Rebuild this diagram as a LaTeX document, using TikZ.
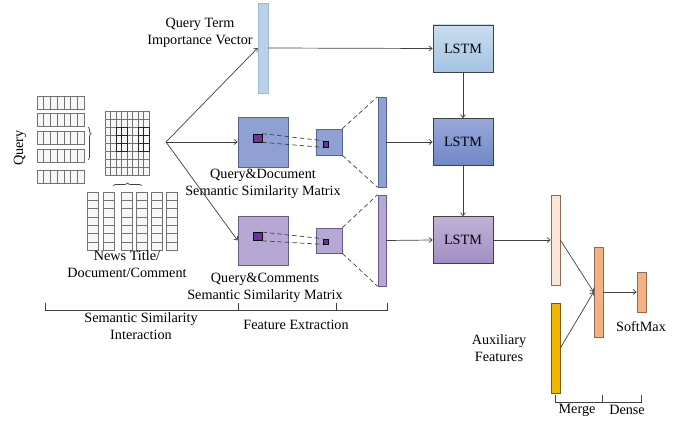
\documentclass[tikz,border=0pt]{standalone}
\usepackage{fontspec}
\setmainfont{Liberation Serif}
\usetikzlibrary{arrows.meta,decorations.pathreplacing}
\definecolor{qtvfill}{HTML}{B9D2EA}
\definecolor{qtvdraw}{HTML}{9DB9D6}
\definecolor{qdfill}{HTML}{8FA0D3}
\definecolor{qddraw}{HTML}{56648F}
\definecolor{qcfill}{HTML}{B5A8D4}
\definecolor{qcdraw}{HTML}{6A5C86}
\definecolor{dotpurple}{HTML}{7030A0}
\definecolor{peachlight}{HTML}{FBE5D6}
\definecolor{peach}{HTML}{F4B183}
\definecolor{auxgold}{HTML}{F2B600}
\definecolor{linegray}{HTML}{404040}
\definecolor{lstmAtop}{HTML}{C9DDEF}
\definecolor{lstmAbot}{HTML}{A3C3E2}
\definecolor{lstmBtop}{HTML}{97A8DB}
\definecolor{lstmBbot}{HTML}{7187C5}
\definecolor{lstmCtop}{HTML}{BFB2D8}
\definecolor{lstmCbot}{HTML}{A38EC2}
\begin{document}
\begin{tikzpicture}[x=1pt,y=-1pt,
  font=\fontsize{14.2}{17}\selectfont,
  line/.style={draw=linegray, line width=0.7pt},
  arr/.style={line, -{Straight Barb[length=3pt,width=5pt]}},
  dashline/.style={draw=linegray, line width=0.7pt, dashed, dash pattern=on 4.5pt off 3pt},
  cell/.style={draw=black!55, fill=gray!6, line width=0.5pt},
  boldcell/.style={draw=black!85, fill=gray!6, line width=0.65pt},
  box/.style={rectangle, inner sep=0pt, line width=0.7pt},
  lstm/.style={rectangle, draw=linegray, line width=0.7pt, minimum width=60pt, minimum height=47pt},
  lbl/.style={align=center, inner sep=0pt},
  brk/.style={draw=linegray, line width=0.7pt}
]
\useasboundingbox (0,0) rectangle (683,422);

% ---- query word vectors
\foreach \yy in {102.5,120,137.5,155.5,176.5}
  \foreach \i in {0,...,6}
    \draw[cell] ({37+\i*6.71},{\yy-6.5}) rectangle ++(6.71,13);
\draw[decorate, decoration={brace, amplitude=3pt, aspect=0.2}, brk] (88,127) -- (88,160);
\node[lbl, rotate=90] (querylbl) at (20,148) {Query};

% ---- interaction matrix
\foreach \r in {0,...,7}
  \foreach \c in {0,...,7}
    \draw[cell] ({105+\c*5.5},{111+\r*8}) rectangle ++(5.5,8);
\foreach \r in {2,3,4}
  \foreach \c in {2,3,6,7}
    \draw[boldcell] ({105+\c*5.5},{111+\r*8}) rectangle ++(5.5,8);
\draw[decorate, decoration={brace, amplitude=3pt}, brk] (113,186) -- (142,186);

% ---- document word vectors
\foreach \xx in {87,103,121,136,151,166}
  \foreach \j in {0,...,6}
    \draw[cell] (\xx,{192+\j*8.3}) rectangle ++(11,8.3);
\node[lbl] (newslbl) at (127,264) {News Title/\\Document/Comment};

\coordinate (fan) at (166,142);

% ---- query term importance vector
\node[box, draw=qtvdraw, fill=qtvfill, minimum width=10pt, minimum height=90pt] (qtv) at (263,48) {};
\node[lbl] (qtvlbl) at (200,32.5) {Query Term\\Importance Vector};

% ---- query & document branch
\node[box, draw=qddraw, fill=qdfill, minimum width=50pt, minimum height=50pt] (qdmat) at (263,142) {};
\node[box, draw=black, fill=dotpurple, minimum width=9pt, minimum height=8pt] (qdsq) at (257.5,138) {};
\node[box, draw=qddraw, fill=qdfill, minimum width=26pt, minimum height=26pt] (qdpool) at (329,142) {};
\node[box, draw=black, fill=dotpurple, minimum width=5pt, minimum height=6pt] (qdtiny) at (325.5,144) {};
\node[box, draw=qddraw, fill=qdfill, minimum width=8pt, minimum height=90pt] (qdvec) at (382,142) {};
\node[lbl] (qdlbl) at (263,184) {Query\&Document\\Semantic Similarity Matrix};

% ---- query & comments branch
\node[box, draw=qcdraw, fill=qcfill, minimum width=50pt, minimum height=49pt] (qcmat) at (263,240.5) {};
\node[box, draw=black, fill=dotpurple, minimum width=9pt, minimum height=8pt] (qcsq) at (257.5,236.5) {};
\node[box, draw=qcdraw, fill=qcfill, minimum width=26pt, minimum height=25pt] (qcpool) at (329,240.5) {};
\node[box, draw=black, fill=dotpurple, minimum width=5pt, minimum height=5pt] (qctiny) at (325.5,241.5) {};
\node[box, draw=qcdraw, fill=qcfill, minimum width=8pt, minimum height=91pt] (qcvec) at (382,240.5) {};
\node[lbl] (qclbl) at (265,288) {Query\&Comments\\Semantic Similarity Matrix};

% ---- LSTM stack
\node[lstm, top color=lstmAtop, bottom color=lstmAbot] (lstm1) at (463,48.5) {LSTM};
\node[lstm, top color=lstmBtop, bottom color=lstmBbot] (lstm2) at (463,142) {LSTM};
\node[lstm, top color=lstmCtop, bottom color=lstmCbot] (lstm3) at (463,240) {LSTM};

% ---- merge / dense
\node[box, draw=peach!60!black, fill=peachlight, minimum width=9pt, minimum height=90pt] (lstmout) at (555.5,240) {};
\node[box, draw=auxgold!50!black, fill=auxgold, minimum width=9pt, minimum height=90pt] (aux) at (555.5,348) {};
\node[box, draw=peach!60!black, fill=peach, minimum width=9pt, minimum height=90pt] (merge) at (598.5,292) {};
\node[box, draw=peach!60!black, fill=peach, minimum width=9pt, minimum height=40pt] (soft) at (641.5,292) {};
\node[lbl] (auxlbl) at (499,348.5) {Auxiliary\\Features};
\node[lbl] (softlbl) at (641,327) {SoftMax};

% ---- connectors
\draw[arr] (fan) -- (qtv.west);
\draw[arr] (fan) -- (qdmat.west);
\draw[arr] (fan) -- (qcmat.west);
\draw[dashline] (qdsq.north east) -- (qdtiny.north west);
\draw[dashline] (qdsq.south east) -- (qdtiny.south west);
\draw[dashline] (qdpool.north east) -- (qdvec.north west);
\draw[dashline] (qdpool.south east) -- (qdvec.south west);
\draw[dashline] (qcsq.north east) -- (qctiny.north west);
\draw[dashline] (qcsq.south east) -- (qctiny.south west);
\draw[dashline] (qcpool.north east) -- (qcvec.north west);
\draw[dashline] (qcpool.south east) -- (qcvec.south west);
\draw[arr] (qtv.east) -- (lstm1.west);
\draw[arr] (qdvec.east) -- (lstm2.west);
\draw[arr] (qcvec.east) -- (lstm3.west);
\draw[arr] (lstm1.south) -- (lstm2.north);
\draw[arr] (lstm2.south) -- (lstm3.north);
\draw[arr] (lstm3.east) -- (lstmout.west);
\draw[arr] (lstmout.east) -- (merge.west);
\draw[arr] (aux.east) -- (merge.west);
\draw[arr] (merge.east) -- (soft.west);

% ---- stage brackets
\draw[brk] (45,303) -- (45,310) -- (387,310) -- (387,303);
\draw[brk] (238,303) -- (238,310);
\draw[brk] (336,303) -- (336,310);
\node[lbl] (stage1) at (141,326.5) {Semantic Similarity\\Interaction};
\node[lbl] (stage2) at (296,325) {Feature Extraction};

\draw[brk] (555,395) -- (555,402) -- (641,402) -- (641,395);
\draw[brk] (602,395) -- (602,402);
\node[lbl] (mergelbl) at (577,410) {Merge};
\node[lbl] (denselbl) at (627,410) {Dense};
\end{tikzpicture}
\end{document}
